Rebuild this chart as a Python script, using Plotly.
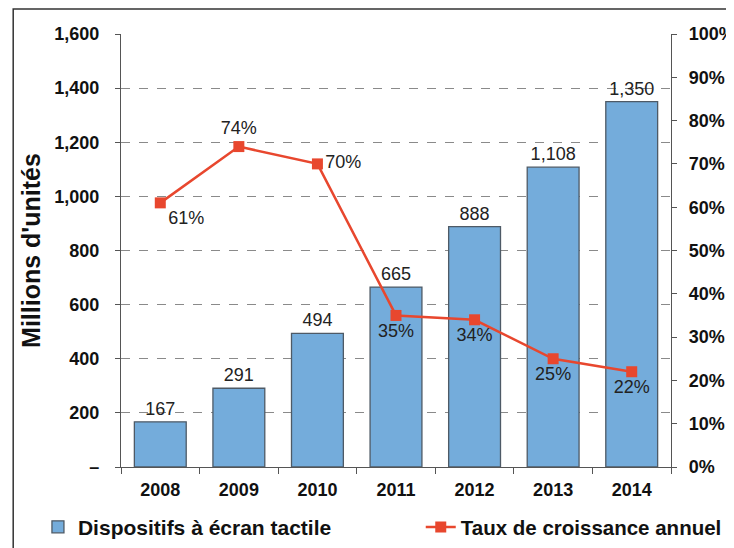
import plotly.graph_objects as go

# Données
annees = ["2008", "2009", "2010", "2011", "2012", "2013", "2014"]
unites = [167, 291, 494, 665, 888, 1108, 1350]
croissance = [61, 74, 70, 35, 34, 25, 22]
pos_labels = ["bottom right", "top center", "middle right", "bottom center",
              "bottom center", "bottom center", "bottom center"]

y_ticks = [0, 200, 400, 600, 800, 1000, 1200, 1400, 1600]
y_ticktext = ["–", "200", "400", "600", "800", "1,000", "1,200", "1,400", "1,600"]
grid_vals = [200, 400, 600, 800, 1000, 1200, 1400]
pct_ticks = list(range(0, 101, 10))

police = "Liberation Sans, Arial, sans-serif"
axe_col = "#555555"

fig = go.Figure()

fig.add_trace(go.Bar(
    x=annees, y=unites,
    name="Dispositifs à écran tactile",
    legend="legend",
    marker=dict(color="#74acdb", line=dict(color="#4e5a66", width=1.3)),
    text=[f"{v:,}" for v in unites],
    textposition="outside",
    textfont=dict(size=18, color="#222222", family=police),
    cliponaxis=False,
))

fig.add_trace(go.Scatter(
    x=annees, y=croissance, yaxis="y2",
    name="Taux de croissance annuel",
    legend="legend2",
    mode="lines+markers+text",
    line=dict(color="#e8472e", width=2.5),
    marker=dict(symbol="square", size=11, color="#e8472e"),
    text=[f"{v}%" for v in croissance],
    textposition=pos_labels,
    textfont=dict(size=18, color="#222222", family=police),
    cliponaxis=False,
))

# axe fantôme pour les lignes de grille (200 à 1 400 seulement)
fig.add_trace(go.Scatter(x=annees, y=[None] * len(annees), yaxis="y3",
                         showlegend=False, hoverinfo="skip"))

leg_font = dict(size=21, color="#111111", family=police, weight="bold")

fig.update_layout(
    width=726, height=540,
    margin=dict(l=113, r=63, t=26, b=81, autoexpand=False),
    paper_bgcolor="white", plot_bgcolor="white",
    font=dict(family=police, color="#111111"),
    bargap=0.34,
    showlegend=True,
    legend=dict(
        orientation="h", x=-0.151, y=-0.139, xanchor="left", yanchor="middle",
        font=leg_font, bgcolor="rgba(0,0,0,0)",
    ),
    legend2=dict(
        orientation="h", x=0.545, y=-0.139, xanchor="left", yanchor="middle",
        font=dict(size=20.5, color="#111111", family=police, weight="bold"),
        bgcolor="rgba(0,0,0,0)",
    ),
    xaxis=dict(
        type="category",
        showline=True, linecolor=axe_col, linewidth=1.3,
        ticks="outside", tickson="boundaries", ticklen=6, tickcolor=axe_col,
        ticklabelstandoff=6,
        tickfont=dict(size=18, color="#111111", weight="bold"),
        showgrid=False,
    ),
    yaxis=dict(
        range=[0, 1600],
        tickvals=y_ticks, ticktext=y_ticktext,
        showline=True, linecolor=axe_col, linewidth=1.3,
        ticks="outside", ticklen=5, tickcolor=axe_col,
        ticklabelstandoff=12,
        tickfont=dict(size=18, color="#111111", weight="bold"),
        showgrid=False, zeroline=False,
        title=dict(text="Millions d'unités", standoff=6,
                   font=dict(size=25, color="#111111", weight="bold")),
    ),
    yaxis2=dict(
        range=[0, 100], overlaying="y", side="right",
        tickvals=pct_ticks, ticktext=[f"{v}%" for v in pct_ticks],
        showline=True, linecolor=axe_col, linewidth=1.3,
        ticks="outside", ticklen=5, tickcolor=axe_col,
        ticklabelstandoff=8,
        tickfont=dict(size=18, color="#111111", weight="bold"),
        showgrid=False, zeroline=False,
    ),
    yaxis3=dict(
        range=[0, 1600], overlaying="y", side="left",
        tickvals=grid_vals, showticklabels=False, ticks="",
        showgrid=True, gridcolor="#8a8a8a", griddash="dash", gridwidth=1,
        showline=False, zeroline=False,
    ),
    shapes=[dict(type="rect", xref="paper", yref="paper",
                 x0=-0.196, x1=1.3, y0=-0.4, y1=1.058,
                 line=dict(color="#333333", width=1.5), layer="below")],
)

fig.write_html("out.html")
